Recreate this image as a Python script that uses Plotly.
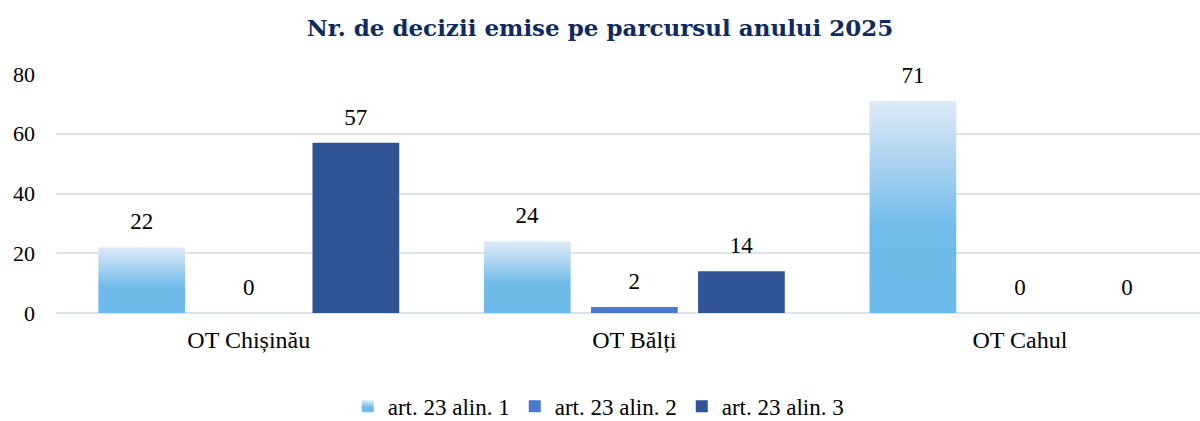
import plotly.graph_objects as go

categories = ["OT Chișinău", "OT Bălți", "OT Cahul"]
series_names = ["art. 23 alin. 1", "art. 23 alin. 2", "art. 23 alin. 3"]
alin1 = [22, 24, 71]
alin2 = [0, 2, 0]
alin3 = [57, 14, 0]
y_ticks = [0, 20, 40, 60, 80]

colors = ["#6dbbea", "#4a78cc", "#2f5597"]
SERIF = "Liberation Serif, Times New Roman, serif"

fig = go.Figure()
for name, vals, col in zip(series_names, [alin1, alin2, alin3], colors):
    fig.add_trace(go.Bar(
        x=categories, y=vals, name=name,
        marker=dict(color=col, line=dict(width=0)),
        text=vals, textposition="outside",
        textfont=dict(family=SERIF, size=23, color="#000000"),
        cliponaxis=False,
    ))

fig.update_layout(
    width=1200, height=421,
    margin=dict(l=56, r=0, t=74, b=108, autoexpand=False),
    paper_bgcolor="white", plot_bgcolor="white",
    barmode="group", bargap=0.167, bargroupgap=0.19,
    title=dict(text="<b>Nr. de decizii emise pe parcursul anului 2025</b>",
               x=0.5, xanchor="center", y=0.933, yanchor="middle",
               font=dict(family="DejaVu Serif, serif", size=23, color="#0e2a5e")),
    font=dict(family=SERIF, size=22, color="#000000"),
    showlegend=True,
    legend=dict(orientation="h", x=0.474, xanchor="center", y=-0.39, yanchor="middle",
                font=dict(family=SERIF, size=23, color="#000000"),
                itemwidth=30, traceorder="normal"),
)
fig.update_xaxes(range=[-0.5, 2.467], showgrid=False, showline=False, zeroline=False,
                 automargin=False,
                 tickfont=dict(family=SERIF, size=24, color="#000000"),
                 ticks="", ticklabelstandoff=10)
fig.update_yaxes(range=[0, 80], tickvals=y_ticks, showgrid=True, gridcolor="#dde2e9",
                 gridwidth=2, zeroline=True, zerolinecolor="#dde2e9", zerolinewidth=2,
                 showline=False, ticks="", ticklabelstandoff=20, automargin=False,
                 tickfont=dict(family=SERIF, size=22, color="#000000"))

post = """
(function(){
  document.documentElement.style.margin='0';
  document.body.style.margin='0';
  document.body.style.padding='0';
  var gd = document.getElementsByClassName('plotly-graph-div')[0];
  function apply(){
    var svg = gd.querySelector('.main-svg');
    var defs = svg.querySelector('defs');
    if(!document.getElementById('gradA1')){
      var ns='http://www.w3.org/2000/svg';
      var lg=document.createElementNS(ns,'linearGradient');
      lg.setAttribute('id','gradA1');
      lg.setAttribute('x1','0');lg.setAttribute('y1','0');
      lg.setAttribute('x2','0');lg.setAttribute('y2','1');
      [['0%','#dfeaf7'],['30%','#a9d3f1'],['60%','#6fbbea'],['100%','#6dbbea']].forEach(function(s){
        var st=document.createElementNS(ns,'stop');
        st.setAttribute('offset',s[0]);st.setAttribute('stop-color',s[1]);
        lg.appendChild(st);
      });
      defs.appendChild(lg);
    }
    var tr = gd.querySelectorAll('.barlayer .trace.bars')[0];
    if(tr){ tr.querySelectorAll('path').forEach(function(p){p.style.fill='url(#gradA1)';}); }
    var lt = gd.querySelectorAll('.legend .traces')[0];
    if(lt){ lt.querySelectorAll('.legendpoints path').forEach(function(p){p.style.fill='url(#gradA1)';}); }
    gd.querySelectorAll('.barlayer .trace.bars text').forEach(function(t){
      if(t.getAttribute('data-shifted')) return;
      var tf = t.getAttribute('transform') || '';
      t.setAttribute('transform', 'translate(0,-10) ' + tf);
      t.setAttribute('data-shifted','1');
    });
  }
  apply();
  gd.on && gd.on('plotly_afterplot', apply);
})();
"""

fig.write_html("out.html", post_script=post, config={"displayModeBar": False})
